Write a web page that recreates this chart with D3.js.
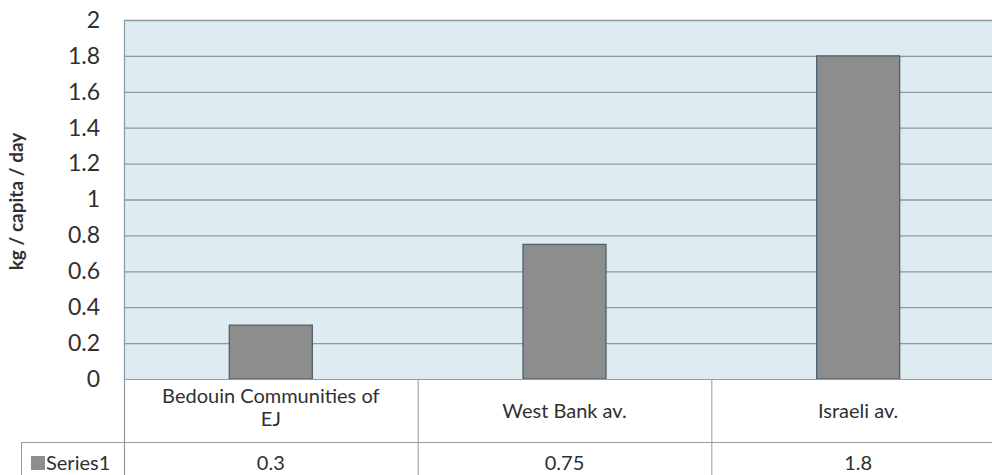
<!DOCTYPE html>
<html>
<head>
<meta charset="utf-8">
<script src="https://cdn.jsdelivr.net/npm/d3@7"></script>
<style>
  html, body { margin: 0; padding: 0; background: #fff; }
  svg { display: block; font-family: Lato, "Open Sans", sans-serif; }
</style>
</head>
<body>
<svg id="chart" width="992" height="475"></svg>
<script>
// Waste generation per person (kg / capita / day)
const categories = ["Bedouin Communities of\nEJ", "West Bank av.", "Israeli av."];
const seriesName = "Series1";
const values = [0.3, 0.75, 1.8];
const yTicks = [0, 0.2, 0.4, 0.6, 0.8, 1, 1.2, 1.4, 1.6, 1.8, 2];
const yLabel = "kg / capita / day";

const svg = d3.select("#chart");
const plotL = 124, plotR = 1005, plotT = 20, plotB = 379;
const row1 = 442, row2 = 500;
const legendLeft = 21;
const textC = "#303030";

const x = d3.scaleBand().domain(categories).range([plotL, plotR]).paddingInner(0).paddingOuter(0);
const y = d3.scaleLinear().domain([0, 2]).range([plotB, plotT]);
const barW = 83;

// plot background
svg.append("rect").attr("x", plotL).attr("y", plotT)
  .attr("width", plotR - plotL).attr("height", plotB - plotT)
  .attr("fill", "#deecf1");

// gridlines
svg.append("g").selectAll("line").data(yTicks.filter(d => d > 0)).join("line")
  .attr("x1", plotL).attr("x2", plotR)
  .attr("y1", d => y(d) + 0.5).attr("y2", d => y(d) + 0.5)
  .attr("stroke", "#8a989f").attr("stroke-width", 1.3);

// left axis line
svg.append("line").attr("x1", plotL + 0.5).attr("x2", plotL + 0.5)
  .attr("y1", plotT).attr("y2", row2)
  .attr("stroke", "#8a989f").attr("stroke-width", 1.2);

// bars
svg.append("g").selectAll("rect").data(values).join("rect")
  .attr("x", (d, i) => x(categories[i]) + x.bandwidth() / 2 - barW / 2)
  .attr("width", barW)
  .attr("y", d => y(d))
  .attr("height", d => y(0) - y(d))
  .attr("fill", "#8d8d8d")
  .attr("stroke", "#4d6272").attr("stroke-width", 1.3);

// y tick labels
const yAxis = d3.axisLeft(y).tickValues(yTicks).tickSize(0).tickPadding(0)
  .tickFormat(d => String(d));
const ga = svg.append("g").attr("transform", `translate(${plotL - 24},0)`).call(yAxis);
ga.select(".domain").remove();
ga.selectAll("text").attr("font-size", 23).attr("fill", textC)
  .attr("font-family", "Lato, 'Open Sans', sans-serif");

// y axis title
svg.append("text")
  .attr("transform", `translate(23,${(plotT + plotB) / 2 + 2}) rotate(-90)`)
  .attr("text-anchor", "middle")
  .attr("font-size", 19).attr("font-weight", "bold").attr("fill", textC)
  .text(yLabel);

// data table
const tbl = svg.append("g");
const lineC = "#9a9a9a";
tbl.append("line").attr("x1", plotL).attr("x2", plotR).attr("y1", plotB + 0.5).attr("y2", plotB + 0.5)
  .attr("stroke", lineC);
tbl.append("line").attr("x1", legendLeft).attr("x2", plotR).attr("y1", row1 + 0.5).attr("y2", row1 + 0.5)
  .attr("stroke", lineC);
tbl.append("line").attr("x1", legendLeft + 0.5).attr("x2", legendLeft + 0.5).attr("y1", row1).attr("y2", row2)
  .attr("stroke", lineC);
tbl.selectAll(".sep").data(categories.slice(1)).join("line")
  .attr("x1", d => x(d) + 0.5).attr("x2", d => x(d) + 0.5)
  .attr("y1", plotB).attr("y2", row2).attr("stroke", lineC);

// category labels (multi-line labels are stacked around the row middle)
categories.forEach(c => {
  const lines = c.split("\n");
  const cx = x(c) + x.bandwidth() / 2;
  const midY = (plotB + row1) / 2;
  const lh = 23;
  const off = lines.length > 1 ? 4 : 7;
  lines.forEach((l, i) => {
    tbl.append("text").attr("x", cx)
      .attr("y", midY + (i - (lines.length - 1) / 2) * lh + off)
      .attr("text-anchor", "middle").attr("font-size", 20).attr("fill", textC)
      .text(l);
  });
});

// series row
tbl.append("rect").attr("x", 31).attr("y", 456).attr("width", 14).attr("height", 14)
  .attr("fill", "#8d8d8d");
tbl.append("text").attr("x", 46).attr("y", 470).attr("font-size", 20).attr("fill", textC)
  .text(seriesName);
values.forEach((v, i) => {
  tbl.append("text").attr("x", x(categories[i]) + x.bandwidth() / 2).attr("y", 470)
    .attr("text-anchor", "middle").attr("font-size", 20).attr("fill", textC)
    .text(String(v));
});
</script>
</body>
</html>
